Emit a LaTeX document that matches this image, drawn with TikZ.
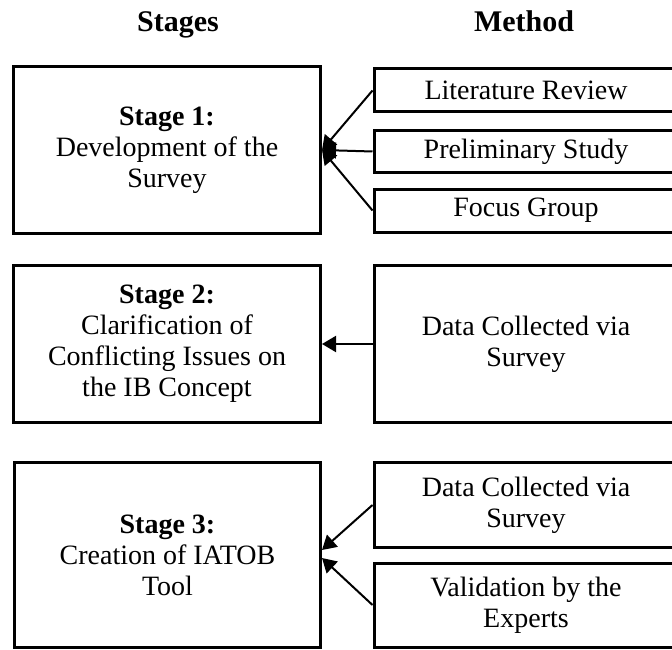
\documentclass[tikz,border=0pt]{standalone}
\usepackage{fontspec}
\setmainfont{Liberation Serif}
\usetikzlibrary{arrows.meta}

\tikzset{
  box/.style={draw=black, line width=3pt, rectangle, align=center, inner sep=0pt,
    font=\fontsize{28}{31}\selectfont},
  head/.style={font=\fontsize{30}{34}\selectfont\bfseries, anchor=base, inner sep=0pt},
  link/.style={draw=black, line width=2pt, -{Triangle[length=14pt,width=16pt]}}
}

\begin{document}
\begin{tikzpicture}[x=1pt, y=-1pt]
  \useasboundingbox (0,0) rectangle (672,650);
  \clip (0,0) rectangle (672,650);

  % column headings
  \node[head] (hs) at (178,32) {Stages};
  \node[head] (hm) at (524,32) {Method};

  % stage boxes
  \node[box, minimum width=307pt, minimum height=166pt] (s1) at (167,150)
    {\textbf{Stage 1:}\\Development of the\\Survey};
  \node[box, minimum width=307pt, minimum height=157pt] (s2) at (167,344)
    {\textbf{Stage 2:}\\Clarification of\\Conflicting Issues on\\the IB Concept};
  \node[box, minimum width=306pt, minimum height=185pt] (s3) at (167.5,555)
    {\textbf{Stage 3:}\\Creation of IATOB\\Tool};

  % method boxes
  \node[box, minimum width=304pt, minimum height=43pt] (m1) at (526,90.5) {Literature Review};
  \node[box, minimum width=304pt, minimum height=41pt] (m2) at (526,151.5) {Preliminary Study};
  \node[box, minimum width=304pt, minimum height=43pt] (m3) at (526,210.5) {Focus Group};
  \node[box, minimum width=304pt, minimum height=157pt] (m4) at (526,344) {Data Collected via\\Survey};
  \node[box, minimum width=304pt, minimum height=85pt] (m5) at (526,505) {Data Collected via\\Survey};
  \node[box, minimum width=304pt, minimum height=84pt] (m6) at (526,605) {Validation by the\\Experts};

  % connectors
  \draw[link] (m1.west) -- (s1.east);
  \draw[link] (m2.west) -- (s1.east);
  \draw[link] (m3.west) -- (s1.east);
  \draw[link] (m4.west) -- (s2.east);
  \draw[link] (m5.west) -- ([yshift=5pt]s3.east);
  \draw[link] (m6.west) -- ([yshift=-3pt]s3.east);
\end{tikzpicture}
\end{document}
